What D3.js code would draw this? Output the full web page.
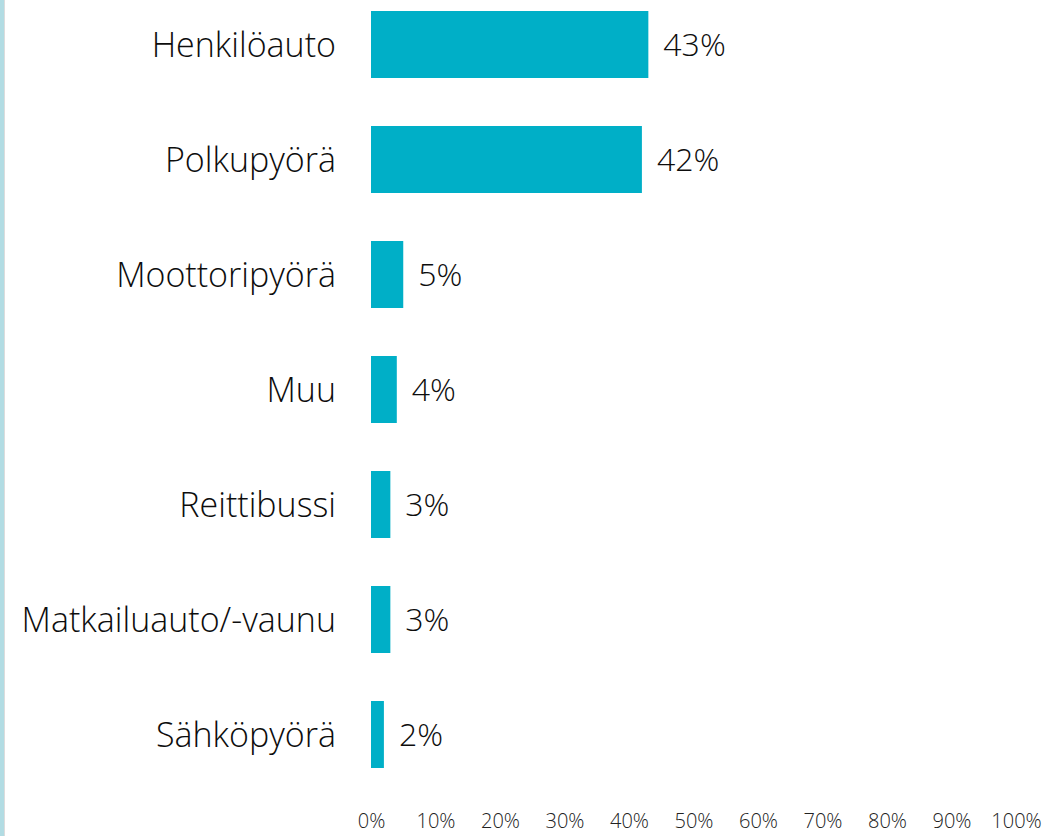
<!DOCTYPE html>
<html><head><meta charset="utf-8">
<script src="https://cdn.jsdelivr.net/npm/d3@7"></script>
<style>
html,body{margin:0;padding:0;background:#fff;}
svg{display:block;}
</style></head>
<body>
<svg id="c" width="1047" height="836"></svg>
<script>
const categories = ["Henkilöauto","Polkupyörä","Moottoripyörä","Muu","Reittibussi","Matkailuauto/-vaunu","Sähköpyörä"];
const values = [43,42,5,4,3,3,2];
const tickValues = [0,10,20,30,40,50,60,70,80,90,100];

const svg = d3.select("#c");
const font = "'Open Sans', 'Noto Sans', sans-serif";

// left border decoration
svg.append("rect").attr("x",0).attr("y",0).attr("width",4).attr("height",836).attr("fill","#b2dce3");
svg.append("line").attr("x1",4.5).attr("x2",4.5).attr("y1",0).attr("y2",836).attr("stroke","#dcdcdc").attr("stroke-width",1);

const x = d3.scaleLinear().domain([0,100]).range([371,1016]);
const p = 48/115;
const y = d3.scaleBand().domain(categories).range([-37,816]).paddingInner(p).paddingOuter(p);

svg.selectAll("rect.bar").data(categories).enter().append("rect")
  .attr("class","bar")
  .attr("x",x(0))
  .attr("y",d=>y(d))
  .attr("width",(d,i)=>x(values[i])-x(0))
  .attr("height",y.bandwidth())
  .attr("fill","#00afc7");

svg.selectAll("text.cat").data(categories).enter().append("text")
  .attr("class","cat")
  .attr("x",336)
  .attr("y",d=>y(d)+y.bandwidth()/2)
  .attr("dy","0.36em")
  .attr("text-anchor","end")
  .attr("font-family",font)
  .attr("font-weight",300)
  .attr("font-size",34)
  .attr("fill","#0d0d0d")
  .text(d=>d);

svg.selectAll("text.val").data(categories).enter().append("text")
  .attr("class","val")
  .attr("x",(d,i)=>x(values[i])+15)
  .attr("y",d=>y(d)+y.bandwidth()/2)
  .attr("dy","0.36em")
  .attr("font-family",font)
  .attr("font-weight",300)
  .attr("font-size",32)
  .attr("fill","#0d0d0d")
  .text((d,i)=>values[i]+"%");

const axis = d3.axisBottom(x).tickValues(tickValues).tickFormat(d=>d+"%").tickSize(0).tickPadding(0);
const g = svg.append("g").attr("transform","translate(0,814)").call(axis);
g.select(".domain").remove();
g.selectAll("text").attr("font-family",font).attr("font-weight",300).attr("font-size",20).attr("fill","#222").attr("dy","0.71em");
</script>
</body></html>
